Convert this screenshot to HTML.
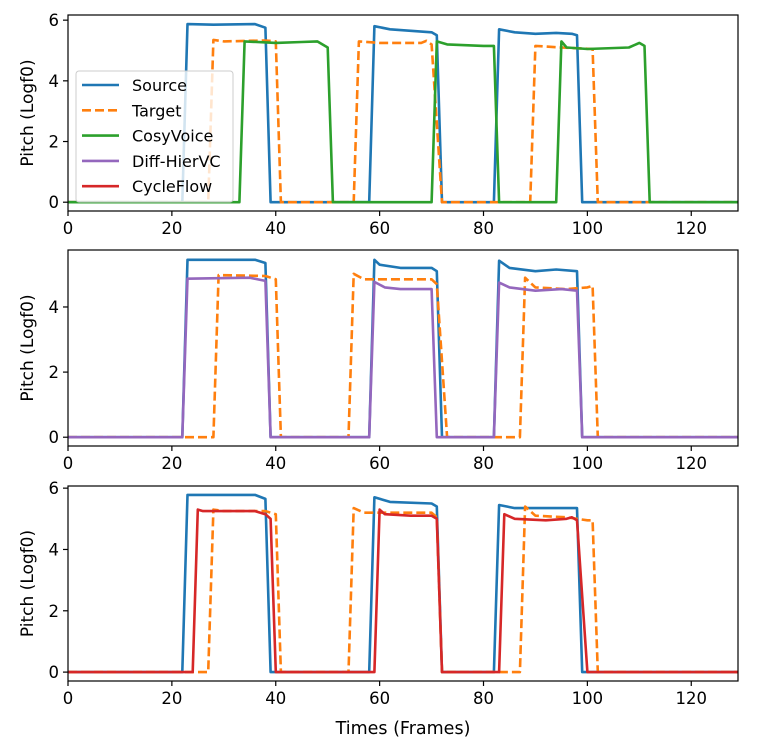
<!DOCTYPE html>
<html><head><meta charset="utf-8"><style>
body{margin:0;background:#fff;}
svg text{font-family:"DejaVu Sans","Liberation Sans",sans-serif;fill:#000;}
</style></head><body>
<svg id="chart" width="761" height="742" xmlns="http://www.w3.org/2000/svg"></svg>
<script>
const xTicks=[0,20,40,60,80,100,120];
const xMax=129;
const seriesNames=["Source","Target","CosyVoice","Diff-HierVC","CycleFlow"];
const seriesColors=["#1f77b4","#ff7f0e","#2ca02c","#9467bd","#d62728"];
// panel 1
const p1SourceX=[0,22,23,28,36,38,39,58,59,62,66,70,71,72,82,83,86,90,94,97,98,99,129];
const p1SourceY=[0,0,5.87,5.85,5.87,5.75,0,0,5.8,5.7,5.65,5.6,5.5,0,0,5.7,5.6,5.55,5.58,5.55,5.5,0,0];
const p1TargetX=[0,27,28,30,38,40,41,55,56,60,68,69,70,72,89,90,95,101,102,129];
const p1TargetY=[0,0,5.35,5.3,5.33,5.3,0,0,5.3,5.25,5.25,5.32,5.2,0,0,5.15,5.1,5.05,0,0];
const p1CosyX=[0,33,34,40,45,48,50,51,70,71,73,80,82,83,94,95,96,100,108,110,111,112,129];
const p1CosyY=[0,0,5.3,5.25,5.28,5.3,5.1,0,0,5.3,5.2,5.15,5.15,0,0,5.3,5.1,5.05,5.1,5.25,5.15,0,0];
// panel 2
const p2SourceX=[0,22,23,30,36,38,39,58,59,60,64,70,71,72,82,83,85,90,94,98,99,129];
const p2SourceY=[0,0,5.45,5.45,5.45,5.35,0,0,5.45,5.3,5.2,5.2,5.1,0,0,5.42,5.2,5.1,5.15,5.1,0,0];
const p2TargetX=[0,28,29,38,40,41,54,55,57,70,71,73,87,88,90,96,100,101,102,129];
const p2TargetY=[0,0,4.98,4.95,4.85,0,0,5.02,4.85,4.85,4.7,0,0,4.9,4.6,4.55,4.6,4.65,0,0];
const p2DiffX=[0,22,23,35,38,39,58,59,61,64,70,71,82,83,85,90,95,98,99,129];
const p2DiffY=[0,0,4.87,4.9,4.8,0,0,4.77,4.6,4.55,4.55,0,0,4.75,4.6,4.5,4.55,4.5,0,0];
// panel 3
const p3SourceX=[0,22,23,36,38,39,58,59,62,70,71,72,82,83,86,92,98,99,129];
const p3SourceY=[0,0,5.78,5.78,5.65,0,0,5.7,5.55,5.5,5.4,0,0,5.45,5.35,5.35,5.35,0,0];
const p3TargetX=[0,27,28,30,38,40,41,54,55,57,70,71,72,87,88,90,96,100,101,102,129];
const p3TargetY=[0,0,5.3,5.25,5.25,5.15,0,0,5.35,5.2,5.2,5.05,0,0,5.4,5.1,5.05,4.95,4.95,0,0];
const p3CycleX=[0,24,25,26,36,38,39,40,59,60,61,66,70,71,72,83,84,86,92,96,97,98,100,129];
const p3CycleY=[0,0,5.3,5.25,5.25,5.15,5.0,0,0,5.3,5.15,5.1,5.1,5.0,0,0,5.15,5.0,4.95,5.0,5.05,4.95,0,0];

const panels=[
 {top:15,bottom:211,ymin:-0.29,ymax:6.17,yTicks:[0,2,4,6],
  series:[[p1SourceX,p1SourceY,0],[p1TargetX,p1TargetY,1],[p1CosyX,p1CosyY,2]],legend:true},
 {top:250,bottom:446,ymin:-0.27,ymax:5.75,yTicks:[0,2,4],
  series:[[p2SourceX,p2SourceY,0],[p2TargetX,p2TargetY,1],[p2DiffX,p2DiffY,3]]},
 {top:486,bottom:681,ymin:-0.29,ymax:6.07,yTicks:[0,2,4,6],
  series:[[p3SourceX,p3SourceY,0],[p3TargetX,p3TargetY,1],[p3CycleX,p3CycleY,4]]}
];
const L=68,R=738;
const NS="http://www.w3.org/2000/svg";
const svg=document.getElementById('chart');
function mk(tag,attrs,parent){const e=document.createElementNS(NS,tag);for(const k in attrs)e.setAttribute(k,attrs[k]);(parent||svg).appendChild(e);return e;}
const xs=v=>L+v/xMax*(R-L);
panels.forEach((p,pi)=>{
 const g=mk('g',{});
 
 
 const ys=v=>p.bottom-(v-p.ymin)/(p.ymax-p.ymin)*(p.bottom-p.top);
 const cp=mk('clipPath',{id:'cp'+pi},g);
 mk('rect',{x:L,y:p.top,width:R-L,height:p.bottom-p.top},cp);
 p.series.forEach(([X,Y,ci])=>{
  const d=X.map((x,i)=>(i?'L':'M')+xs(x).toFixed(1)+','+ys(Y[i]).toFixed(1)).join('');
  const path=mk('path',{d:d,fill:'none',stroke:seriesColors[ci],'stroke-width':2.6,'stroke-linejoin':'round','clip-path':'url(#cp'+pi+')'},g);
  if(ci===1)path.setAttribute('stroke-dasharray','9,4');
  
  
 });
 mk('rect',{x:L,y:p.top,width:R-L,height:p.bottom-p.top,fill:'none',stroke:'#000','stroke-width':1.2},g);
 xTicks.forEach(t=>{
  mk('line',{x1:xs(t),x2:xs(t),y1:p.bottom,y2:p.bottom+5,stroke:'#000','stroke-width':1.2},g);
  const tx=mk('text',{x:xs(t),y:p.bottom+23,'text-anchor':'middle','font-size':16.5},g);tx.textContent=t;
  
  
 });
 p.yTicks.forEach(t=>{
  mk('line',{x1:L-5,x2:L,y1:ys(t),y2:ys(t),stroke:'#000','stroke-width':1.2},g);
  const tx=mk('text',{x:L-9,y:ys(t)+6,'text-anchor':'end','font-size':16.5},g);tx.textContent=t;
  
  
 });
 const yl=mk('text',{x:0,y:0,'text-anchor':'middle','font-size':17,transform:`translate(33,${(p.top+p.bottom)/2}) rotate(-90)`},g);
 yl.textContent='Pitch (Logf0)';
 
 
 if(p.legend){
  const lg=mk('g',{},g);
  
  
  mk('rect',{x:76,y:71,width:157,height:131,rx:3,fill:'#fff','fill-opacity':0.8,stroke:'#ccc','stroke-width':1},lg);
  seriesNames.forEach((n,i)=>{
   const y=85+i*25.3;
   const ln=mk('line',{x1:82,x2:119,y1:y,y2:y,stroke:seriesColors[i],'stroke-width':2.6},lg);
   if(i===1)ln.setAttribute('stroke-dasharray','9,4');
   const t=mk('text',{x:132,y:y+6,'font-size':16},lg);t.textContent=n;
   
   
  });
 }
});
const xt=mk('text',{x:(L+R)/2,y:734,'text-anchor':'middle','font-size':17.5});
xt.textContent='Times (Frames)';


</script>
</body></html>
